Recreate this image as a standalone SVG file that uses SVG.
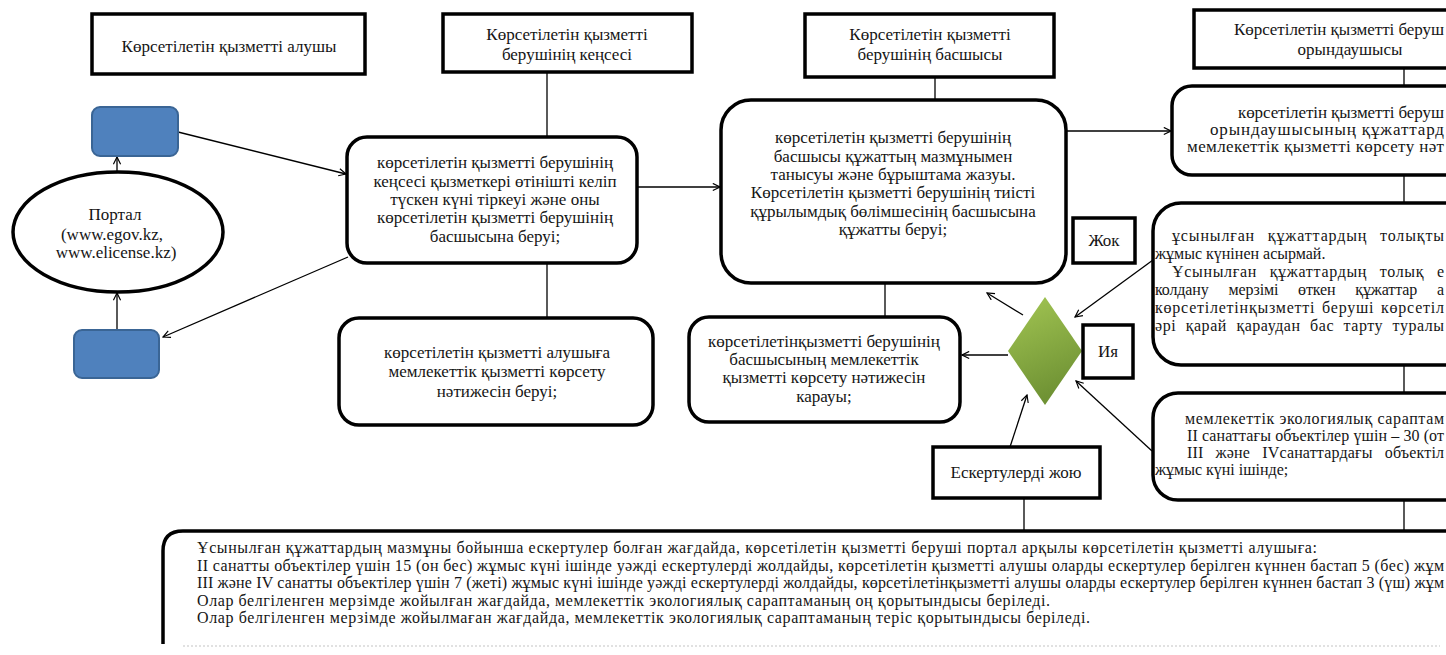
<svg xmlns="http://www.w3.org/2000/svg" width="1446" height="655" viewBox="0 0 1446 655">
<style>
text{font-family:"Liberation Serif","DejaVu Serif",serif;fill:#151515}
.t{font-size:17px}
.s{font-size:16px}
.b{font-size:16px}
.c{text-anchor:middle}
.box{fill:#fff;stroke:#000;stroke-width:3.5}
.blue{fill:#4f81bd;stroke:#3a6595;stroke-width:2}
.ln{stroke:#000;stroke-width:1.3;fill:none}
.ar{stroke:#000;stroke-width:1.3;fill:none;marker-end:url(#ah)}
</style>
<defs>
<marker id="ah" viewBox="0 0 10 10" refX="9" refY="5" markerWidth="9" markerHeight="9" markerUnits="userSpaceOnUse" orient="auto">
<path d="M1,1 L9,5 L1,9" fill="none" stroke="#000" stroke-width="1.3"/>
</marker>
<linearGradient id="gr" x1="0" y1="0" x2="0.3" y2="1">
<stop offset="0" stop-color="#a3c653"/>
<stop offset="1" stop-color="#6f9234"/>
</linearGradient>
</defs>
<rect width="1446" height="655" fill="#fff"/>

<g id="connectors">
<line class="ln" x1="547" y1="72" x2="547" y2="137"/>
<line class="ln" x1="935" y1="77" x2="935" y2="100"/>
<line class="ln" x1="1404" y1="68" x2="1404" y2="86"/>
<line class="ln" x1="547" y1="263" x2="547" y2="318"/>
<line class="ln" x1="885" y1="283" x2="885" y2="317"/>
<line class="ln" x1="1404" y1="175" x2="1404" y2="203"/>
<line class="ln" x1="1404" y1="365" x2="1404" y2="393"/>
<line class="ln" x1="1404" y1="500" x2="1404" y2="531"/>
<line class="ln" x1="1024" y1="498" x2="1024" y2="531"/>
<line class="ar" x1="117" y1="172" x2="117" y2="157"/>
<line class="ar" x1="117" y1="330" x2="117" y2="293"/>
<line class="ar" x1="178" y1="132" x2="346" y2="174"/>
<line class="ar" x1="348" y1="257" x2="163" y2="337"/>
<line class="ar" x1="637" y1="187" x2="720" y2="187"/>
<line class="ar" x1="1066" y1="131" x2="1171" y2="131"/>
<line class="ar" x1="1153" y1="260" x2="1075" y2="317"/>
<line class="ar" x1="1023" y1="315" x2="987" y2="293"/>
<line class="ar" x1="1008" y1="355" x2="962" y2="355"/>
<line class="ar" x1="1152" y1="451" x2="1076" y2="381"/>
<line class="ar" x1="1010" y1="447" x2="1027" y2="395"/>
</g>

<g id="h1"><rect class="box" x="92" y="14" width="273" height="60"/>
<text class="t c" x="229" y="52">Көрсетілетін қызметті алушы</text></g>

<g id="h2"><rect class="box" x="443" y="14" width="249" height="58"/>
<text class="t c" x="567" y="40">Көрсетілетін қызметті</text>
<text class="t c" x="567" y="60">берушінің кеңсесі</text></g>

<g id="h3"><rect class="box" x="805" y="14" width="249" height="63"/>
<text class="t c" x="930" y="40">Көрсетілетін қызметті</text>
<text class="t c" x="930" y="60">берушінің басшысы</text></g>

<g id="h4"><rect class="box" x="1194" y="10" width="330" height="58"/>
<text class="t" x="1234" y="35" textLength="210">Көрсетілетін қызметті беруш</text>
<text class="t c" x="1350" y="55">орындаушысы</text></g>

<g id="portal"><ellipse cx="118" cy="232" rx="105" ry="60" fill="#fff" stroke="#000" stroke-width="3.5"/>
<text class="t c" x="115" y="220">Портал</text>
<text class="t c" x="112" y="240">(www.egov.kz,</text>
<text class="t c" x="116" y="258">www.elicense.kz)</text></g>

<g id="blue1"><rect class="blue" x="92" y="107" width="86" height="49" rx="8"/></g>
<g id="blue2"><rect class="blue" x="74" y="330" width="85" height="48" rx="8"/></g>

<g id="box1"><rect class="box" x="347" y="137" width="290" height="126" rx="20"/>
<text class="t c" x="495" y="168">көрсетілетін қызметті берушінің</text>
<text class="t c" x="495" y="187">кеңсесі қызметкері өтінішті келіп</text>
<text class="t c" x="495" y="205">түскен күні тіркеуі және оны</text>
<text class="t c" x="495" y="223">көрсетілетін қызметті берушінің</text>
<text class="t c" x="495" y="242">басшысына беруі;</text></g>

<g id="box2"><rect class="box" x="721" y="100" width="345" height="183" rx="30"/>
<text class="t c" x="893" y="143">көрсетілетін қызметті берушінің</text>
<text class="t c" x="893" y="162">басшысы құжаттың мазмұнымен</text>
<text class="t c" x="893" y="180">танысуы және бұрыштама жазуы.</text>
<text class="t c" x="893" y="198">Көрсетілетін қызметті берушінің тиісті</text>
<text class="t c" x="893" y="217">құрылымдық бөлімшесінің басшысына</text>
<text class="t c" x="893" y="235">құжатты беруі;</text></g>

<g id="box3"><rect class="box" x="1172" y="86" width="340" height="89" rx="20"/>
<text class="t" x="1238" y="118" textLength="206">көрсетілетін қызметті беруш</text>
<text class="t" x="1210" y="135" textLength="234">орындаушысының құжаттард</text>
<text class="t" x="1187" y="152" textLength="257">мемлекеттік қызметті көрсету нәт</text></g>

<g id="box4"><rect class="box" x="1153" y="203" width="360" height="162" rx="28"/>
<text class="s" x="1172" y="241" word-spacing="8" textLength="272">ұсынылған құжаттардың толықты</text>
<text class="s" x="1155" y="259">жұмыс күнінен асырмай.</text>
<text class="s" x="1172" y="277" word-spacing="8" textLength="272">Ұсынылған құжаттардың толық е</text>
<text class="s" x="1155" y="295" word-spacing="16" textLength="289">колдану мерзімі өткен құжаттар а</text>
<text class="s" x="1155" y="313" word-spacing="2" textLength="289">көрсетілетінқызметті беруші көрсетіл</text>
<text class="s" x="1155" y="331" word-spacing="5" textLength="289">әрі қарай қараудан бас тарту туралы</text></g>

<g id="box5"><rect class="box" x="1153" y="393" width="360" height="107" rx="25"/>
<text class="s" x="1185" y="424" textLength="259">мемлекеттік экологиялық сараптам</text>
<text class="s" x="1187" y="441" textLength="257">II санаттағы объектілер үшін – 30 (от</text>
<text class="s" x="1187" y="458" word-spacing="8" textLength="257">III және IVсанаттардағы объектіл</text>
<text class="s" x="1155" y="475">жұмыс күні ішінде;</text></g>

<g id="res1"><rect class="box" x="339" y="318" width="314" height="107" rx="20"/>
<text class="t c" x="497" y="358">көрсетілетін қызметті алушыға</text>
<text class="t c" x="497" y="377">мемлекеттік қызметті көрсету</text>
<text class="t c" x="497" y="397">нәтижесін беруі;</text></g>

<g id="res2"><rect class="box" x="689" y="317" width="271" height="105" rx="20"/>
<text class="t c" x="824" y="347">көрсетілетінқызметті берушінің</text>
<text class="t c" x="824" y="365">басшысының мемлекеттік</text>
<text class="t c" x="824" y="383">қызметті көрсету нәтижесін</text>
<text class="t c" x="824" y="402">карауы;</text></g>

<g id="decision"><polygon points="1045,297 1082,351 1045,405 1008,351" fill="url(#gr)"/></g>

<g id="no"><rect class="box" x="1073" y="218" width="62" height="45"/>
<text class="t c" x="1104" y="246">Жок</text></g>

<g id="yes"><rect class="box" x="1083" y="325" width="50" height="53"/>
<text class="t c" x="1108" y="357">Ия</text></g>

<g id="fix"><rect class="box" x="933" y="447" width="167" height="51"/>
<text class="t c" x="1016" y="478">Ескертулерді жою</text></g>

<g id="bottom">
<path d="M163,644 L163,551 Q163,531 183,531 L1520,531" fill="none" stroke="#000" stroke-width="3.5"/>
<line x1="183" y1="646" x2="1440" y2="646" stroke="#d8d8d8" stroke-width="1.5" stroke-dasharray="2,2"/>
<text class="b" x="197" y="553" textLength="1120">Ұсынылған құжаттардың мазмұны бойынша ескертулер болған жағдайда, көрсетілетін қызметті беруші портал арқылы көрсетілетін қызметті алушыға:</text>
<text class="b" x="197" y="571" textLength="1247">II санатты объектілер үшін 15 (он бес) жұмыс күні ішінде уәжді ескертулерді жолдайды, көрсетілетін қызметті алушы оларды ескертулер берілген күннен бастап 5 (бес) жұм</text>
<text class="b" x="197" y="588" textLength="1247">III және IV санатты объектілер үшін 7 (жеті) жұмыс күні ішінде уәжді ескертулерді жолдайды, көрсетілетінқызметті алушы оларды ескертулер берілген күннен бастап 3 (үш) жұм</text>
<text class="b" x="197" y="606" textLength="853">Олар белгіленген мерзімде жойылған жағдайда, мемлекеттік экологиялық сараптаманың оң қорытындысы беріледі.</text>
<text class="b" x="197" y="623" textLength="893">Олар белгіленген мерзімде жойылмаған жағдайда, мемлекеттік экологиялық сараптаманың теріс қорытындысы беріледі.</text>
</g>
</svg>
